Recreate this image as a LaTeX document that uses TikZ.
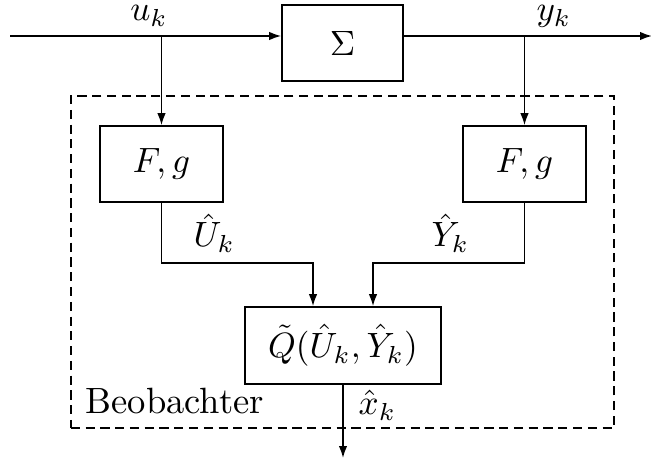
\documentclass[tikz,border=0pt]{standalone}
\usetikzlibrary{arrows.meta}
\begin{document}
\begin{tikzpicture}[x=0.01cm,y=-0.01cm,
  every node/.append style={font=\fontsize{10.4}{12.5}\selectfont},
  blk/.style={draw, line width=0.45pt, inner sep=0pt},
  arr/.style={line width=0.45pt,-{Latex[length=3.4pt,width=2.4pt]}},
  lbl/.style={inner sep=0pt},
  obsbox/.style={draw, line width=0.45pt, dash pattern=on 2.6pt off 1.6pt, inner sep=0pt}]
\useasboundingbox (0,0) rectangle (651,464);
% blocks
\node[blk, minimum width=1.21cm, minimum height=0.76cm] (sys) at (342.5,43) {$\Sigma$};
\node[obsbox, minimum width=5.43cm, minimum height=3.32cm] (obs) at (342.5,262) {};
\node[blk, minimum width=1.23cm, minimum height=0.76cm] (fl) at (161.5,164) {$F,g$};
\node[blk, minimum width=1.23cm, minimum height=0.76cm] (fr) at (524.5,164) {$F,g$};
\node[blk, minimum width=1.96cm, minimum height=0.77cm] (q) at (343,345.5) {$\tilde{Q}(\hat{U}_k,\hat{Y}_k)$};
% coordinates
\coordinate (in) at (10,36);
\coordinate (out) at (652,36);
\coordinate (ql) at (313,263);
\coordinate (qr) at (373,263);
\coordinate (xo) at (343,458);
% connectors
\draw[arr] (in) -- (sys.west |- in);
\draw[arr] (sys.east |- out) -- (out);
\draw[arr] (fl.north |- in) -- (fl.north);
\draw[arr] (fr.north |- out) -- (fr.north);
\draw[arr] (fl.south) |- (ql) -- (ql |- q.north);
\draw[arr] (fr.south) |- (qr) -- (qr |- q.north);
\draw[arr] (q.south) -- (xo);
% labels
\node[lbl, anchor=base] (uk) at (149,21) {$u_k$};
\node[lbl, anchor=base] (yk) at (554,21) {$y_k$};
\node[lbl, anchor=base west] (Uk) at (193,247) {$\hat{U}_k$};
\node[lbl, anchor=base east] (Yk) at (470,247) {$\hat{Y}_k$};
\node[lbl, anchor=base west] (xk) at (358,415) {$\hat{x}_k$};
\node[lbl, anchor=base west] (beo) at (85,413) {Beobachter};
\end{tikzpicture}
\end{document}
